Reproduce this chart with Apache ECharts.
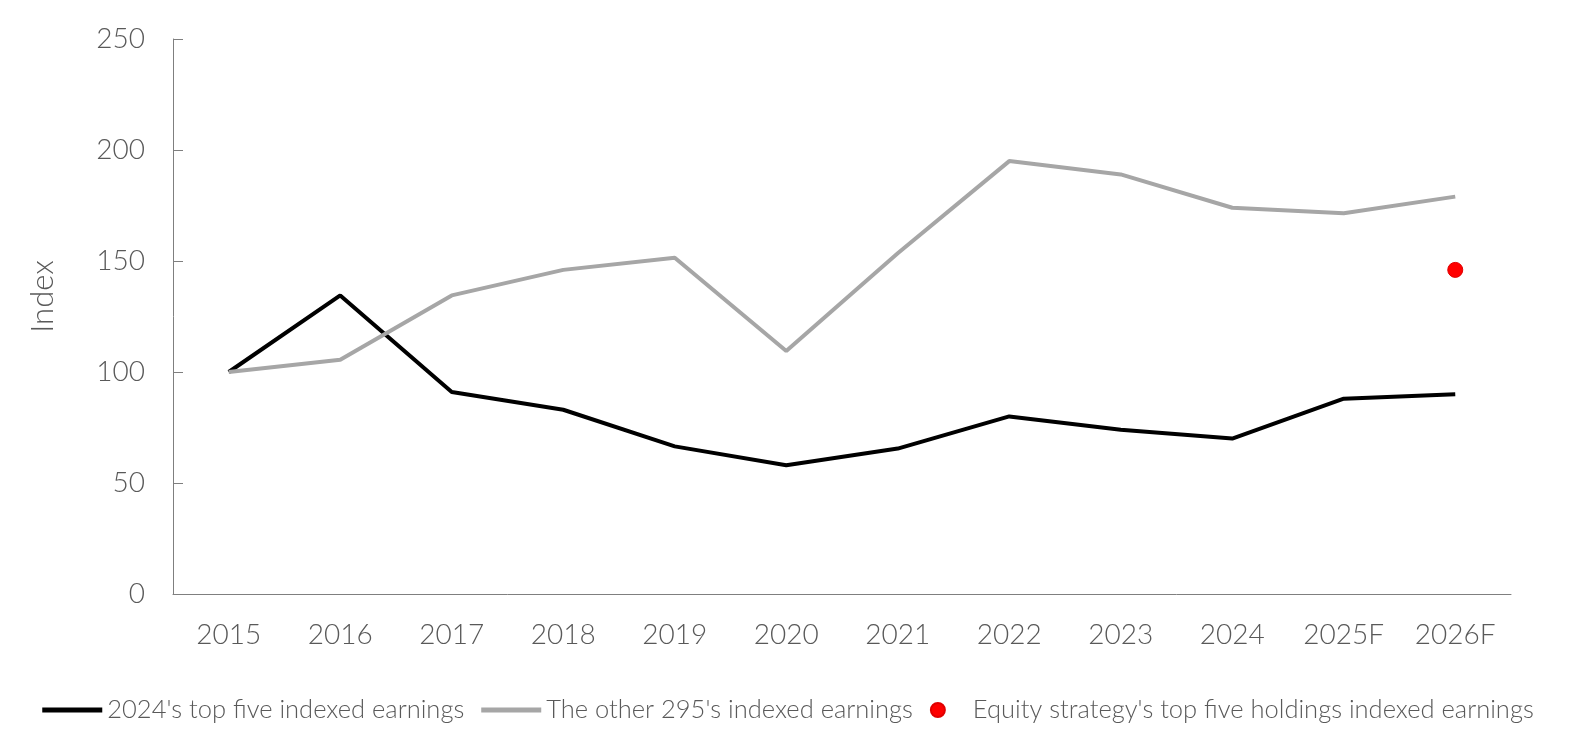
<!DOCTYPE html>
<html>
<head>
<meta charset="utf-8">
<script src="https://cdn.jsdelivr.net/npm/echarts@6/dist/echarts.min.js"></script>
<style>html,body{margin:0;padding:0;background:#fff}#c{width:1576px;height:747px}</style>
</head>
<body>
<div id="c"></div>
<script>
const categories = ['2015','2016','2017','2018','2019','2020','2021','2022','2023','2024','2025F','2026F'];
const topFive = [100, 134.5, 91, 83, 66.5, 58, 65.5, 80, 74, 70, 88, 90];
const other295 = [100, 105.5, 134.5, 146, 151.5, 109.5, 153.5, 195, 189, 174, 171.5, 179];
const equityTop5 = [null, null, null, null, null, null, null, null, null, null, null, 146];
const yTicks = [0, 50, 100, 150, 200, 250];
const FONT = 'Lato';
const TXT = '#595959';
const LINE_ICON = 'path://M0,4.5L60,4.5L60,9.5L0,9.5Z M0,0L0.01,0Z M0,14L0.01,14Z';
const chart = echarts.init(document.getElementById('c'));
chart.setOption({
  animation: false,
  backgroundColor: '#fff',
  grid: { left: 173, right: 65, top: 39, bottom: 153 },
  legend: {
    bottom: 19,
    left: 'center',
    itemWidth: 60,
    itemHeight: 14,
    itemGap: 17,
    textStyle: { fontFamily: FONT, fontWeight: 300, fontSize: 25.5, color: TXT },
    data: [
      { name: "2024's top five indexed earnings", icon: LINE_ICON, itemStyle: { color: '#000' } },
      { name: "The other 295's indexed earnings", icon: LINE_ICON, itemStyle: { color: '#a6a6a6' } },
      { name: "Equity strategy's top five holdings indexed earnings", icon: 'circle' }
    ]
  },
  xAxis: {
    type: 'category',
    data: categories,
    boundaryGap: true,
    axisLine: { lineStyle: { color: '#7f7f7f', width: 1 } },
    axisTick: { inside: true, length: 10, lineStyle: { color: '#7f7f7f' } },
    axisLabel: { fontFamily: FONT, fontWeight: 300, fontSize: 28, color: TXT, margin: 27 }
  },
  yAxis: {
    type: 'value',
    min: yTicks[0], max: yTicks[yTicks.length-1], interval: 50,
    name: 'Index',
    nameLocation: 'middle',
    nameGap: 115,
    nameTextStyle: { fontFamily: FONT, fontWeight: 300, fontSize: 31, color: TXT, padding: [0,0,0,40] },
    axisLine: { show: true, lineStyle: { color: '#7f7f7f', width: 1 } },
    axisTick: { show: true, inside: true, length: 10, lineStyle: { color: '#7f7f7f' } },
    splitLine: { show: false },
    axisLabel: { fontFamily: FONT, fontWeight: 300, fontSize: 28, color: TXT, margin: 28 }
  },
  series: [
    { name: "2024's top five indexed earnings", type: 'line', data: topFive, symbol: 'none',
      lineStyle: { color: '#000', width: 4 }, itemStyle: { color: '#000' } },
    { name: "The other 295's indexed earnings", type: 'line', data: other295, symbol: 'none',
      lineStyle: { color: '#a6a6a6', width: 4 }, itemStyle: { color: '#a6a6a6' } },
    { name: "Equity strategy's top five holdings indexed earnings", type: 'scatter', data: equityTop5,
      symbol: 'circle', symbolSize: 15, itemStyle: { color: '#ff0000', borderColor: '#e00000', borderWidth: 1, opacity: 1 } }
  ]
});
</script>
</body>
</html>
